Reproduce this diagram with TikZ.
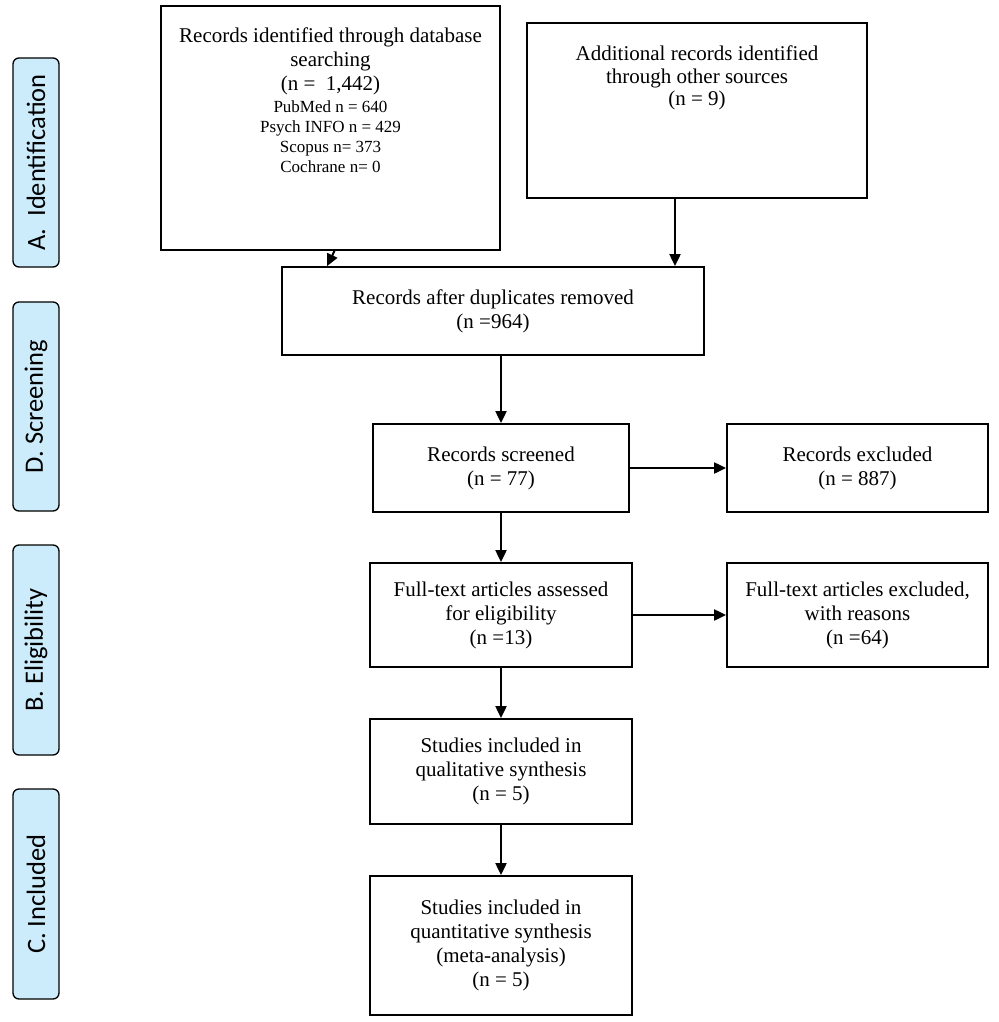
\documentclass[tikz,border=0pt]{standalone}
\usepackage{fontspec}
\setmainfont{Liberation Serif}
\newfontfamily\sidefont{Carlito}
\usetikzlibrary{arrows.meta,calc}
\definecolor{sidefill}{HTML}{CCEBFB}
\begin{document}
\begin{tikzpicture}[x=1pt,y=-1pt,
  box/.style={draw, line width=1.8pt, inner sep=0pt, align=center,
    font=\fontsize{21}{24}\selectfont},
  tbox/.style={draw, line width=1.8pt, inner sep=0pt,
    font=\fontsize{21}{24}\selectfont},
  side/.style={draw, line width=1.3pt, fill=sidefill, rounded corners=6pt,
    rotate=90, inner sep=0pt, minimum height=46pt,
    font=\sidefont\fontsize{26.5}{30}\selectfont},
  arr/.style={line width=2pt, -{Triangle[length=12pt,width=11pt]}}]
\useasboundingbox (0,0) rectangle (998,1022);

% side labels
\node[side, minimum width=209pt] (sA) at (36,162.5) {A.\ \ Identification};
\node[side, minimum width=209pt] (sD) at (36,406.5) {D. Screening};
\node[side, minimum width=210pt] (sB) at (36,650) {B. Eligibility};
\node[side, minimum width=210pt] (sC) at (36,894) {C. Included};

% boxes
\node[tbox] (db) at (330.5,128) {\parbox[c][244pt][t]{339pt}{\centering\vspace*{22pt}%
  Records identified through database\\searching\\(n =\ \ 1,442)\par
  \vspace{2pt}\fontsize{17}{20}\selectfont
  PubMed n = 640\\Psych INFO n = 429\\Scopus n= 373\\Cochrane n= 0\par}};
\node[tbox] (other) at (697,110.5) {\parbox[c][175pt][t]{340pt}{\centering
  \fontsize{21}{22.5}\selectfont\vspace*{23pt}%
  Additional records identified\\through other sources\\(n = 9)\par}};
\node[box, minimum width=422pt, minimum height=88pt] (dup) at (493,311)
  {Records after duplicates removed\\(n =964)};
\node[box, minimum width=256pt, minimum height=88pt] (scr) at (501,468)
  {Records screened\\(n = 77)};
\node[box, minimum width=261pt, minimum height=88pt] (exc) at (857.5,468)
  {Records excluded\\(n = 887)};
\node[box, minimum width=262pt, minimum height=104pt] (ft) at (501,615)
  {Full-text articles assessed\\for eligibility\\(n =13)};
\node[box, minimum width=261pt, minimum height=104pt] (ftx) at (857.5,615)
  {Full-text articles excluded,\\with reasons\\(n =64)};
\node[box, minimum width=262pt, minimum height=105pt] (qual) at (501,771.5)
  {Studies included in\\qualitative synthesis\\(n = 5)};
\node[box, minimum width=262pt, minimum height=139pt] (quant) at (501,945.5)
  {Studies included in\\quantitative synthesis\\(meta-analysis)\\(n = 5)};

% connectors
\draw[arr] ([xshift=4pt]db.south) -- ([xshift=46pt]dup.north west);
\draw[arr] ([xshift=-22pt]other.south) -- ([xshift=-22pt]other.south |- dup.north);
\draw[arr] (scr.north |- dup.south) -- (scr.north);
\draw[arr] (scr.east) -- (exc.west);
\draw[arr] (scr.south) -- (scr.south |- ft.north);
\draw[arr] (ft.east) -- (ft.east -| ftx.west);
\draw[arr] (ft.south) -- (qual.north);
\draw[arr] (qual.south) -- (quant.north);
\end{tikzpicture}
\end{document}
